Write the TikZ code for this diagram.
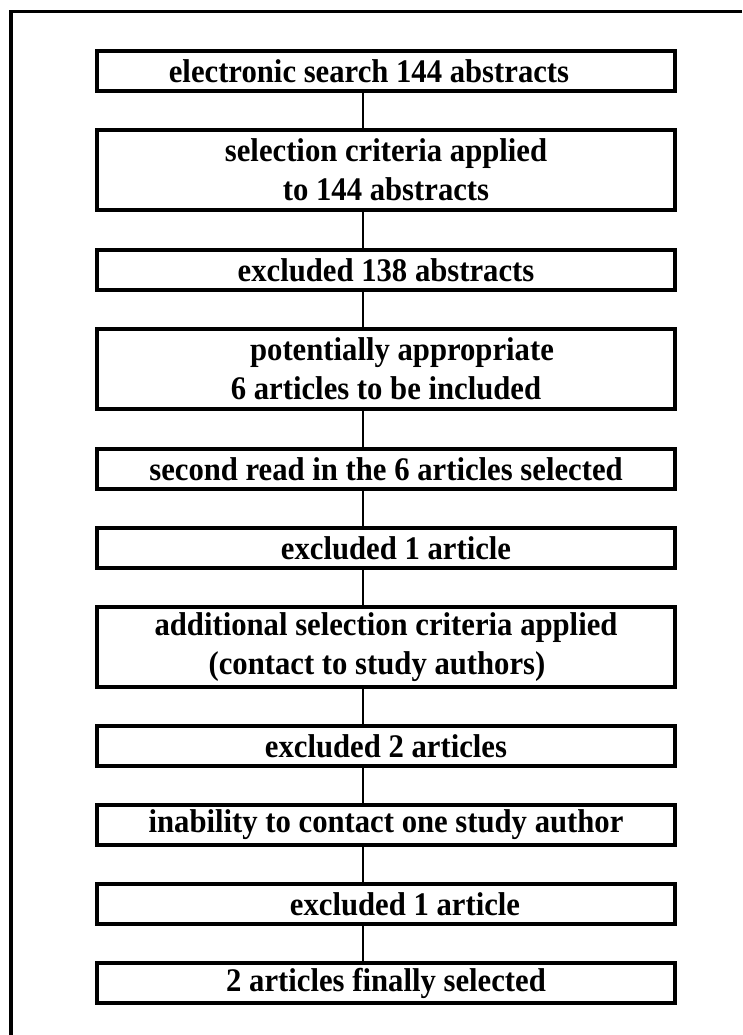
\documentclass[tikz,border=0pt]{standalone}
\usepackage{fontspec}
\setmainfont{Liberation Serif}[FakeStretch=0.93]
\begin{document}
\begin{tikzpicture}[x=1pt,y=1pt,
  box/.style={draw,line width=3.2pt,minimum width=578pt,inner sep=0pt,align=center,
    font=\bfseries\fontsize{33}{39}\selectfont},
  one/.style={box,minimum height=40pt},
  two/.style={box,minimum height=80pt},
  link/.style={line width=1.8pt}]
\useasboundingbox (0,0) rectangle (742,1035);
% outer frame (top and left only)
\coordinate (ftl) at (11,1023.5);
\coordinate (ftr) at (742,1023.5);
\coordinate (fbl) at (11,0);
\draw[line width=3.2pt] (ftr) -- (ftl) -- (fbl);
\coordinate (axis) at (363,0);
\node[one] (b1) at (386,964) {electronic search 144 abstracts\kern34pt};
\node[two] (b2) at (386,865) {selection criteria applied\\to 144 abstracts};
\node[one] (b3) at (386,765) {excluded 138 abstracts};
\node[two] (b4) at (386,666) {\kern32pt potentially appropriate\\6 articles to be included};
\node[one] (b5) at (386,566) {second read in the 6 articles selected};
\node[one] (b6) at (386,487) {\kern20pt excluded 1 article};
\node[two] (b7) at (386,388) {additional selection criteria applied\\(contact to study authors)\kern18pt};
\node[one] (b8) at (386,289) {excluded 2 articles};
\node[one] (b9) at (386,210) {inability to contact one study author};
\node[one] (b10) at (386,131) {\kern38pt excluded 1 article};
\node[one] (b11) at (386,52) {2 articles finally selected};
\foreach \a/\b in {b1/b2,b2/b3,b3/b4,b4/b5,b5/b6,b6/b7,b7/b8,b8/b9,b9/b10,b10/b11}
  \draw[link] (\a.south -| axis) -- (\b.north -| axis);
\end{tikzpicture}
\end{document}
